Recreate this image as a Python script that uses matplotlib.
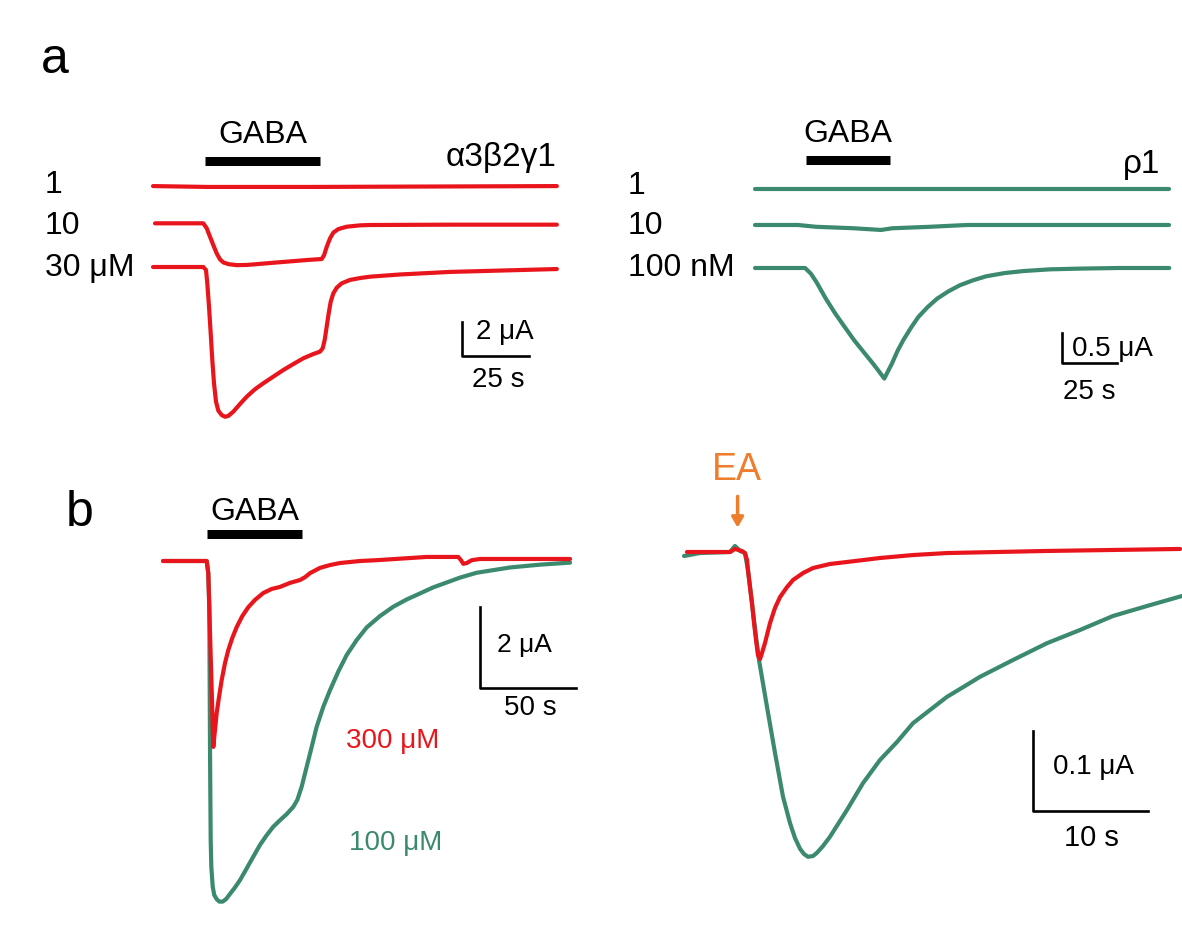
import numpy as np
import matplotlib
matplotlib.use("Agg")
import matplotlib.pyplot as plt

plt.rcParams['font.family'] = ['Liberation Sans', 'DejaVu Sans']

RED = '#e8161c'
GREEN = '#3b8a6d'
ORANGE = '#ef7d2e'

# ---- panel a, alpha3beta2gamma1 (time s, current uA relative to baseline)
a1_t_30 = [0, 18.77, 19.78, 20.26, 20.9, 21.53, 22.13, 22.76, 23.51, 24.37, 25.63, 26.87, 28.1, 29.96,
           32.46, 34.96, 38.06, 41.16, 44.89, 48.62, 52.35, 56.08, 59.81, 62.31, 63.32, 64.07, 64.81,
           65.56, 66.31, 67.28, 68.54, 70.41, 73.51, 77.24, 80.97, 92.16, 110.8, 129.5, 150.7]
a1_i_30 = [0, 0, -0.18, -0.96, -2.34, -3.9, -5.47, -6.84, -7.92, -8.45, -8.71, -8.81, -8.76, -8.51,
           -8.06, -7.63, -7.19, -6.84, -6.45, -6.06, -5.71, -5.37, -5.12, -4.98, -4.78, -4.29, -3.51,
           -2.72, -2.04, -1.55, -1.22, -0.96, -0.76, -0.65, -0.57, -0.44, -0.29, -0.21, -0.12]
a1_t_10 = [0.75, 18.77, 20.04, 21.27, 22.5, 23.77, 25.0, 26.23, 28.1, 31.23, 34.96, 44.89, 57.35, 62.95,
           63.81, 64.81, 66.04, 67.28, 69.14, 72.28, 77.24, 80.97, 110.8, 150.7]
a1_i_10 = [0, 0, -0.29, -0.79, -1.28, -1.77, -2.12, -2.3, -2.4, -2.46, -2.45, -2.32, -2.16, -2.1,
           -1.88, -1.39, -0.89, -0.55, -0.34, -0.2, -0.12, -0.1, -0.08, -0.08]
a1_t_1 = [0, 20, 60, 150.7]
a1_i_1 = [0, -0.05, -0.05, 0]
a1_gaba = [19.4, 62.3]
a1_labels = ['1', '10', '30 \u03bcM']

# ---- panel a, rho1
a2_t_100 = [0, 22.77, 25.36, 27.91, 32.18, 36.5, 40.77, 45.09, 49.36, 53.64, 56.23, 58.77, 60.5, 62.23,
            64.77, 67.36, 70.82, 74.23, 78.5, 82.82, 87.95, 93.09, 99.09, 105.1, 113.7, 122.3, 134.3,
            148.0, 165.1, 188.3]
a2_i_100 = [0, 0, -0.093, -0.233, -0.51, -0.76, -0.983, -1.205, -1.4, -1.593, -1.717, -1.843, -1.717,
            -1.593, -1.383, -1.205, -1.0, -0.817, -0.65, -0.51, -0.388, -0.288, -0.205, -0.138, -0.083,
            -0.05, -0.022, -0.01, 0, 0]
a2_t_10 = [0, 19.5, 27.7, 45.0, 57.3, 62.3, 79.5, 96.4, 188.2]
a2_i_10 = [0, 0, -0.03, -0.055, -0.083, -0.055, -0.03, 0, 0]
a2_t_1 = [0, 188.2]
a2_i_1 = [0, 0]
a2_gaba = [23.2, 61.4]
a2_labels = ['1', '10', '100 nM']

# ---- panel b, alpha3beta2gamma1 300 uM (red) and 100 uM (green)
b1_t_300 = [0, 22.76, 23.59, 24.11, 24.84, 25.36, 25.89, 26.2, 27.08, 27.97, 29.17, 30.57, 32.29, 34.01,
            36.09, 38.39, 41.3, 44.43, 47.92, 52.24, 56.61, 60.94, 66.15, 71.35, 73.96, 76.56, 81.77,
            86.98, 92.19, 102.6, 111.3, 137.3, 153.8, 155.2, 156.4, 158.2, 160.8, 165.1, 185.9, 212.0]
b1_i_300 = [0, 0, -0.3, -1.14, -2.35, -3.19, -4.1, -4.59, -4.17, -3.75, -3.36, -2.94, -2.52, -2.2,
            -1.9, -1.63, -1.36, -1.14, -0.96, -0.79, -0.69, -0.64, -0.54, -0.47, -0.4, -0.3, -0.17,
            -0.1, -0.05, 0, 0.02, 0.1, 0.1, 0.02, -0.07, -0.05, 0.02, 0.05, 0.05, 0.05]
b1_t_100 = [0, 22.76, 23.59, 24.11, 24.48, 24.64, 24.84, 25.16, 25.89, 26.72, 27.97, 29.32, 31.09,
            32.81, 34.9, 37.5, 40.1, 43.59, 47.03, 50.52, 54.01, 57.45, 60.94, 64.43, 67.86, 69.95,
            72.24, 74.84, 77.45, 80.05, 83.49, 86.98, 91.3, 95.68, 100.9, 106.1, 113.0, 119.9, 126.9,
            133.9, 140.8, 147.8, 154.7, 163.4, 180.7, 196.4, 212.0]
b1_i_100 = [0, 0, -0.3, -1.14, -4.59, -5.65, -6.89, -7.55, -8.04, -8.25, -8.35, -8.41, -8.41, -8.35,
            -8.22, -8.06, -7.88, -7.59, -7.3, -7.01, -6.77, -6.56, -6.4, -6.25, -6.07, -5.9, -5.57,
            -5.08, -4.59, -4.09, -3.6, -3.19, -2.73, -2.32, -1.95, -1.64, -1.36, -1.13, -0.95, -0.8,
            -0.65, -0.53, -0.41, -0.29, -0.16, -0.09, -0.04]
b1_gaba = [22.9, 72.4]

# ---- panel b, EA responses
b2_t_red = [0, 3.74, 4.17, 4.78, 5.04, 5.22, 5.3, 5.48, 5.65, 5.83, 6.0, 6.17, 6.35, 6.52, 6.78, 7.22,
            7.65, 8.09, 8.7, 9.22, 10.09, 10.96, 12.43, 13.91, 16.78, 19.65, 22.61, 31.3, 42.87]
b2_i_red = [0, 0, 0.0038, 0.0013, -0.0013, -0.01, -0.0225, -0.0438, -0.0638, -0.0888, -0.11, -0.1288,
            -0.1338, -0.1263, -0.1138, -0.0888, -0.07, -0.0563, -0.0438, -0.035, -0.0263, -0.02,
            -0.015, -0.0125, -0.0075, -0.0038, -0.0013, 0.0013, 0.0038]
b2_t_green = [-0.26, 1.13, 3.74, 4.17, 4.61, 5.04, 5.3, 5.65, 6.0, 6.26, 6.96, 7.65, 8.35, 8.96, 9.39,
              9.83, 10.17, 10.52, 10.96, 11.3, 11.83, 12.43, 13.91, 15.3, 16.78, 18.26, 19.65, 21.13,
              22.61, 24.0, 25.48, 28.35, 31.3, 34.17, 37.04, 40.0, 43.04]
b2_i_green = [-0.005, -0.0013, 0, 0.0075, 0.0013, -0.0013, -0.0225, -0.0638, -0.106, -0.135, -0.194,
              -0.251, -0.306, -0.339, -0.3575, -0.371, -0.3775, -0.381, -0.38, -0.376, -0.3675,
              -0.356, -0.3225, -0.289, -0.26, -0.2375, -0.214, -0.1975, -0.181, -0.169, -0.156,
              -0.135, -0.114, -0.0975, -0.08, -0.0675, -0.055]
b2_ea_time = 4.4

W, H = 1182, 949
fig = plt.figure(figsize=(W / 100, H / 100), dpi=100)


def panel_axes(x0, y0, sx, sy):
    # axes over whole figure; (x0, y0) pixel of t=0/I=0, sx px per s, sy px per uA
    ax = fig.add_axes([0, 0, 1, 1])
    ax.set_xlim(-x0 / sx, (W - x0) / sx)
    ax.set_ylim(-(H - y0) / sy, y0 / sy)
    ax.set_facecolor('none')
    ax.axis('off')
    return ax


def trace(ax, t, i, color, off=0.0):
    ax.plot(t, np.array(i) + off, color=color, lw=3.0, solid_joinstyle='round',
            solid_capstyle='round')


def scalebar(ax, t0, i0, dt, di):
    ax.plot([t0, t0, t0 + dt], [i0 + di, i0, i0], color='black', lw=1.9)


# panel a left
ax = panel_axes(153, 267, 2.68, 17.0)
offs = [4.76, 2.57, 0.0]
trace(ax, a1_t_1, a1_i_1, RED, offs[0])
trace(ax, a1_t_10, a1_i_10, RED, offs[1])
trace(ax, a1_t_30, a1_i_30, RED, offs[2])
for lab, o in zip(a1_labels, [4.8, 2.41, -0.06]):
    ax.text(-40.3, o, lab, fontsize=23, ha='left', va='center')
ax.plot(a1_gaba, [6.23, 6.23], color='black', lw=6.5, solid_capstyle='butt')
ax.text(np.mean(a1_gaba), 7.76, 'GABA', fontsize=23, ha='center', va='center')
ax.text(150.7, 6.47, '\u03b13\u03b22\u03b31', fontsize=24, ha='right', va='center')
scalebar(ax, 115.3, -5.24, 25, 2)
ax.text(120.6, -3.82, '2 \u03bcA', fontsize=20, ha='left', va='center')
ax.text(129, -6.65, '25 s', fontsize=20, ha='center', va='center')

# panel a right
ax = panel_axes(755, 268, 2.2, 60.0)
offs = [1.317, 0.717, 0.0]
trace(ax, a2_t_1, a2_i_1, GREEN, offs[0])
trace(ax, a2_t_10, a2_i_10, GREEN, offs[1])
trace(ax, a2_t_100, a2_i_100, GREEN, offs[2])
for lab, o in zip(a2_labels, [1.37, 0.7, 0.0]):
    ax.text(-57.7, o, lab, fontsize=23, ha='left', va='center')
ax.plot(a2_gaba, [1.8, 1.8], color='black', lw=6.5, solid_capstyle='butt')
ax.text(np.mean(a2_gaba), 2.23, 'GABA', fontsize=23, ha='center', va='center')
ax.text(184, 1.72, '\u03c11', fontsize=24, ha='right', va='center')
scalebar(ax, 139.5, -1.583, 25, 0.5)
ax.text(144.1, -1.35, '0.5 \u03bcA', fontsize=20, ha='left', va='center')
ax.text(140, -2.07, '25 s', fontsize=20, ha='left', va='center')

# panel b left
ax = panel_axes(163, 561, 1.92, 40.5)
trace(ax, b1_t_100, b1_i_100, GREEN)
trace(ax, b1_t_300, b1_i_300, RED)
ax.plot(b1_gaba, [0.67, 0.67], color='black', lw=6.5, solid_capstyle='butt')
ax.text(np.mean(b1_gaba), 1.21, 'GABA', fontsize=23, ha='center', va='center')
scalebar(ax, 165.1, -3.14, 50, 2)
ax.text(188.5, -2.07, '2 \u03bcA', fontsize=19, ha='center', va='center')
ax.text(191.1, -3.63, '50 s', fontsize=20, ha='center', va='center')
ax.text(119.8, -4.44, '300 \u03bcM', fontsize=20, ha='center', va='center', color=RED)
ax.text(121.3, -6.96, '100 \u03bcM', fontsize=20, ha='center', va='center', color=GREEN)

# panel b right
ax = panel_axes(687, 552, 11.5, 800.0)
trace(ax, b2_t_green, b2_i_green, GREEN)
trace(ax, b2_t_red, b2_i_red, RED)
ax.annotate('', xy=(b2_ea_time, 0.027), xytext=(b2_ea_time, 0.073),
            arrowprops=dict(arrowstyle='-|>,head_width=0.35,head_length=0.6', color=ORANGE, lw=2.5))
ax.text(b2_ea_time - 0.05, 0.1025, 'EA', fontsize=27, ha='center', va='center', color=ORANGE)
scalebar(ax, 30.09, -0.324, 10, 0.1)
ax.text(35.3, -0.269, '0.1 \u03bcA', fontsize=20, ha='center', va='center')
ax.text(35.2, -0.3575, '10 s', fontsize=21, ha='center', va='center')

fig.text(55 / W, 1 - 60 / H, 'a', fontsize=36, ha='center', va='center')
fig.text(80 / W, 1 - 513 / H, 'b', fontsize=36, ha='center', va='center')

fig.savefig('out.png', dpi=100)
